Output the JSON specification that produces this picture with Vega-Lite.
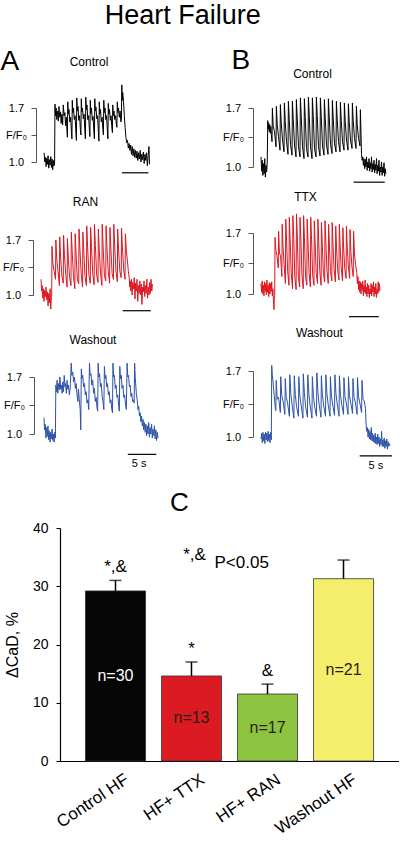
{
"$schema": "https://vega.github.io/schema/vega-lite/v6.json",
"padding": {"left": 0, "top": 2, "right": 0, "bottom": 0},
"background": "white",
"config": {
  "font": "Liberation Sans",
  "view": {"stroke": null},
  "axis": {"grid": false, "labelColor": "#000000", "titleColor": "#000000", "labelFont": "Liberation Sans", "titleFont": "Liberation Sans"},
  "title": {"fontWeight": "normal", "color": "#000000", "font": "Liberation Sans"},
  "text": {"font": "Liberation Sans", "color": "#000000"}
},
"title": {"text": "Heart Failure", "fontSize": 27, "anchor": "middle", "dx": -17, "offset": 17},
"datasets": {
"AC": [{"t":0,"v":1.12},{"t":0.12,"v":1.0},{"t":0.25,"v":1.06},{"t":0.38,"v":0.94},{"t":0.5,"v":1.05},{"t":0.62,"v":0.97},{"t":0.75,"v":1.08},{"t":0.88,"v":0.92},{"t":1.0,"v":1.03},{"t":1.12,"v":0.96},{"t":1.25,"v":1.07},{"t":1.38,"v":0.93},{"t":1.5,"v":1.04},{"t":1.62,"v":0.9},{"t":1.75,"v":1.02},{"t":1.88,"v":0.95},{"t":1.98,"v":1.0},
{"t":2.05,"v":1.75},{"t":2.15,"v":1.6},{"t":2.28,"v":1.7},{"t":2.4,"v":1.55},{"t":2.55,"v":1.66},{"t":2.68,"v":1.53},{"t":2.8,"v":1.72},{"t":2.95,"v":1.58},{"t":3.1,"v":1.65},{"t":3.22,"v":1.5},{"t":3.35,"v":1.62},{"t":3.5,"v":1.48},{"t":3.62,"v":1.74},{"t":3.78,"v":1.6},{"t":3.92,"v":1.64},{"t":4.05,"v":1.47},{"t":4.2,"v":1.58},{"t":4.32,"v":1.4},
{"t":4.4,"v":1.32},{"t":4.47,"v":1.78},{"t":4.58,"v":1.62},{"t":4.7,"v":1.68},{"t":4.85,"v":1.52},{"t":5.0,"v":1.58},{"t":5.15,"v":1.4},
{"t":5.25,"v":1.3},{"t":5.32,"v":1.8},{"t":5.43,"v":1.64},{"t":5.55,"v":1.7},{"t":5.7,"v":1.55},{"t":5.85,"v":1.6},{"t":6.0,"v":1.38},
{"t":6.1,"v":1.28},{"t":6.17,"v":1.83},{"t":6.28,"v":1.66},{"t":6.4,"v":1.72},{"t":6.55,"v":1.54},{"t":6.7,"v":1.6},{"t":6.85,"v":1.42},
{"t":6.95,"v":1.35},{"t":7.02,"v":1.82},{"t":7.13,"v":1.65},{"t":7.25,"v":1.7},{"t":7.4,"v":1.56},{"t":7.55,"v":1.62},{"t":7.7,"v":1.4},
{"t":7.8,"v":1.3},{"t":7.87,"v":1.84},{"t":7.98,"v":1.68},{"t":8.1,"v":1.74},{"t":8.25,"v":1.55},{"t":8.4,"v":1.6},{"t":8.55,"v":1.42},
{"t":8.65,"v":1.33},{"t":8.72,"v":1.8},{"t":8.83,"v":1.63},{"t":8.95,"v":1.7},{"t":9.1,"v":1.54},{"t":9.25,"v":1.59},{"t":9.4,"v":1.39},
{"t":9.5,"v":1.3},{"t":9.57,"v":1.82},{"t":9.68,"v":1.66},{"t":9.8,"v":1.71},{"t":9.95,"v":1.56},{"t":10.1,"v":1.6},{"t":10.25,"v":1.4},
{"t":10.35,"v":1.27},{"t":10.42,"v":1.78},{"t":10.53,"v":1.62},{"t":10.65,"v":1.68},{"t":10.8,"v":1.52},{"t":10.95,"v":1.58},{"t":11.1,"v":1.42},
{"t":11.2,"v":1.35},{"t":11.27,"v":1.8},{"t":11.38,"v":1.64},{"t":11.5,"v":1.7},{"t":11.65,"v":1.55},{"t":11.8,"v":1.6},{"t":11.95,"v":1.4},
{"t":12.05,"v":1.3},{"t":12.12,"v":1.76},{"t":12.23,"v":1.62},{"t":12.35,"v":1.68},{"t":12.5,"v":1.54},{"t":12.65,"v":1.6},{"t":12.8,"v":1.44},
{"t":12.9,"v":1.38},{"t":12.97,"v":1.74},{"t":13.08,"v":1.6},{"t":13.2,"v":1.66},{"t":13.35,"v":1.55},{"t":13.5,"v":1.6},{"t":13.65,"v":1.48},
{"t":13.75,"v":1.45},{"t":13.82,"v":1.78},{"t":13.93,"v":1.64},{"t":14.05,"v":1.7},{"t":14.2,"v":1.58},{"t":14.35,"v":1.66},{"t":14.5,"v":1.52},
{"t":14.6,"v":1.55},{"t":14.67,"v":2.0},{"t":14.76,"v":1.8},{"t":14.85,"v":1.9},
{"t":15.0,"v":1.78},{"t":15.15,"v":1.6},{"t":15.3,"v":1.45},{"t":15.45,"v":1.32},{"t":15.6,"v":1.25},{"t":15.75,"v":1.28},{"t":15.9,"v":1.18},{"t":16.05,"v":1.24},{"t":16.2,"v":1.15},{"t":16.35,"v":1.22},{"t":16.5,"v":1.1},{"t":16.65,"v":1.2},{"t":16.8,"v":1.08},{"t":16.95,"v":1.17},{"t":17.1,"v":1.06},{"t":17.25,"v":1.15},{"t":17.4,"v":1.05},{"t":17.55,"v":1.14},{"t":17.7,"v":1.02},{"t":17.85,"v":1.12},{"t":18.0,"v":1.04},{"t":18.15,"v":1.15},{"t":18.3,"v":1.0},{"t":18.45,"v":1.1},{"t":18.6,"v":1.03},{"t":18.75,"v":1.13},{"t":18.9,"v":0.98},{"t":19.05,"v":1.1},{"t":19.2,"v":1.02},{"t":19.35,"v":1.12},{"t":19.5,"v":0.95},{"t":19.65,"v":1.08},{"t":19.8,"v":1.2},{"t":19.9,"v":0.97}],
"AR": [{"t":0,"v":1.2},{"t":0.1,"v":1.05},{"t":0.2,"v":1.12},{"t":0.3,"v":0.96},{"t":0.42,"v":1.08},{"t":0.54,"v":0.92},{"t":0.66,"v":1.06},{"t":0.78,"v":0.98},{"t":0.9,"v":1.1},{"t":1.02,"v":0.94},{"t":1.14,"v":1.04},{"t":1.26,"v":0.86},{"t":1.38,"v":1.02},{"t":1.5,"v":0.9},{"t":1.62,"v":1.08},{"t":1.74,"v":0.82},{"t":1.85,"v":0.98},
{"t":1.9,"v":0.98},{"t":1.96,"v":1.62},{"t":2.12,"v":1.4},{"t":2.35,"v":1.3},
{"t":2.59,"v":1.2},{"t":2.65,"v":1.7},{"t":2.81,"v":1.46},{"t":3.04,"v":1.3},
{"t":3.28,"v":1.12},{"t":3.34,"v":1.74},{"t":3.5,"v":1.48},{"t":3.73,"v":1.24},
{"t":3.97,"v":1.15},{"t":4.03,"v":1.76},{"t":4.19,"v":1.5},{"t":4.42,"v":1.26},
{"t":4.66,"v":1.1},{"t":4.72,"v":1.72},{"t":4.88,"v":1.46},{"t":5.11,"v":1.22},
{"t":5.35,"v":1.12},{"t":5.41,"v":1.8},{"t":5.57,"v":1.55},{"t":5.8,"v":1.24},
{"t":6.04,"v":1.08},{"t":6.1,"v":1.78},{"t":6.26,"v":1.52},{"t":6.49,"v":1.2},
{"t":6.73,"v":1.14},{"t":6.79,"v":1.84},{"t":6.95,"v":1.58},{"t":7.18,"v":1.26},
{"t":7.42,"v":1.1},{"t":7.48,"v":1.8},{"t":7.64,"v":1.55},{"t":7.87,"v":1.22},
{"t":8.11,"v":1.12},{"t":8.17,"v":1.88},{"t":8.33,"v":1.6},{"t":8.56,"v":1.25},
{"t":8.8,"v":1.15},{"t":8.86,"v":1.86},{"t":9.02,"v":1.6},{"t":9.25,"v":1.26},
{"t":9.49,"v":1.13},{"t":9.55,"v":1.9},{"t":9.71,"v":1.63},{"t":9.94,"v":1.25},
{"t":10.18,"v":1.16},{"t":10.24,"v":1.84},{"t":10.4,"v":1.58},{"t":10.63,"v":1.28},
{"t":10.87,"v":1.12},{"t":10.93,"v":1.9},{"t":11.09,"v":1.62},{"t":11.32,"v":1.25},
{"t":11.56,"v":1.18},{"t":11.62,"v":1.88},{"t":11.78,"v":1.6},{"t":12.01,"v":1.3},
{"t":12.25,"v":1.15},{"t":12.31,"v":1.86},{"t":12.47,"v":1.6},{"t":12.7,"v":1.27},
{"t":12.94,"v":1.2},{"t":13.0,"v":1.9},{"t":13.16,"v":1.62},{"t":13.39,"v":1.3},
{"t":13.63,"v":1.17},{"t":13.69,"v":1.84},{"t":13.85,"v":1.58},{"t":14.08,"v":1.3},
{"t":14.32,"v":1.22},{"t":14.38,"v":1.85},{"t":14.54,"v":1.6},{"t":14.77,"v":1.32},
{"t":15.01,"v":1.2},{"t":15.07,"v":1.78},{"t":15.25,"v":1.55},{"t":15.45,"v":1.42},{"t":15.6,"v":1.3},{"t":15.75,"v":1.22},{"t":15.85,"v":1.1},
{"t":15.95,"v":1.18},{"t":16.05,"v":1.05},{"t":16.15,"v":1.2},{"t":16.27,"v":1.0},{"t":16.4,"v":1.16},{"t":16.52,"v":1.08},{"t":16.65,"v":1.22},{"t":16.78,"v":0.95},{"t":16.9,"v":1.15},{"t":17.02,"v":1.05},{"t":17.15,"v":1.2},{"t":17.28,"v":0.92},{"t":17.4,"v":1.12},{"t":17.52,"v":1.02},{"t":17.65,"v":1.18},{"t":17.78,"v":1.0},{"t":17.9,"v":1.14},{"t":18.02,"v":0.88},{"t":18.15,"v":1.1},{"t":18.28,"v":1.04},{"t":18.4,"v":1.18},{"t":18.52,"v":0.98},{"t":18.65,"v":1.12},{"t":18.78,"v":1.02},{"t":18.9,"v":1.2},{"t":19.02,"v":0.96},{"t":19.15,"v":1.1},{"t":19.28,"v":1.0},{"t":19.4,"v":1.16},{"t":19.52,"v":1.02},{"t":19.65,"v":1.2},{"t":19.78,"v":1.05},{"t":19.9,"v":1.14}],
"AW": [{"t":0,"v":1.2},{"t":0.1,"v":1.05},{"t":0.22,"v":1.12},{"t":0.34,"v":0.95},{"t":0.46,"v":1.08},{"t":0.58,"v":0.97},{"t":0.7,"v":1.1},{"t":0.82,"v":0.93},{"t":0.94,"v":1.04},{"t":1.06,"v":0.9},{"t":1.18,"v":1.02},{"t":1.3,"v":0.94},{"t":1.42,"v":1.06},{"t":1.54,"v":0.92},{"t":1.66,"v":1.0},{"t":1.78,"v":0.9},{"t":1.9,"v":1.02},{"t":2.0,"v":0.95},
{"t":2.08,"v":1.6},{"t":2.18,"v":1.52},{"t":2.3,"v":1.66},{"t":2.42,"v":1.5},{"t":2.55,"v":1.62},{"t":2.68,"v":1.54},{"t":2.8,"v":1.7},{"t":2.93,"v":1.55},{"t":3.05,"v":1.6},{"t":3.18,"v":1.5},{"t":3.3,"v":1.64},{"t":3.42,"v":1.52},{"t":3.55,"v":1.72},{"t":3.68,"v":1.58},{"t":3.8,"v":1.62},{"t":3.92,"v":1.5},{"t":4.05,"v":1.66},{"t":4.18,"v":1.55},{"t":4.3,"v":1.6},{"t":4.45,"v":1.48},{"t":4.62,"v":1.58},
{"t":4.78,"v":1.87},{"t":4.9,"v":1.72},{"t":5.05,"v":1.76},{"t":5.2,"v":1.64},{"t":5.35,"v":1.7},{"t":5.5,"v":1.56},{"t":5.65,"v":1.62},{"t":5.8,"v":1.48},{"t":5.95,"v":1.4},{"t":6.05,"v":1.55},{"t":6.2,"v":1.42},{"t":6.35,"v":1.3},{"t":6.45,"v":1.05},
{"t":6.55,"v":1.8},{"t":6.67,"v":1.68},{"t":6.8,"v":1.72},{"t":6.95,"v":1.58},{"t":7.1,"v":1.62},{"t":7.25,"v":1.48},{"t":7.4,"v":1.52},{"t":7.55,"v":1.38},{"t":7.7,"v":1.42},{"t":7.85,"v":1.3},
{"t":7.98,"v":1.87},{"t":8.1,"v":1.72},{"t":8.25,"v":1.74},{"t":8.4,"v":1.6},{"t":8.55,"v":1.66},{"t":8.7,"v":1.5},{"t":8.85,"v":1.56},{"t":9.0,"v":1.4},{"t":9.15,"v":1.45},{"t":9.3,"v":1.32},{"t":9.42,"v":1.28},
{"t":9.5,"v":1.87},{"t":9.62,"v":1.7},{"t":9.76,"v":1.74},{"t":9.9,"v":1.58},{"t":10.05,"v":1.62},{"t":10.2,"v":1.46},{"t":10.35,"v":1.4},{"t":10.5,"v":1.3},
{"t":10.6,"v":1.83},{"t":10.72,"v":1.68},{"t":10.86,"v":1.72},{"t":11.0,"v":1.58},{"t":11.15,"v":1.62},{"t":11.3,"v":1.48},{"t":11.45,"v":1.52},{"t":11.6,"v":1.38},{"t":11.75,"v":1.42},{"t":11.9,"v":1.3},{"t":12.02,"v":1.26},
{"t":12.1,"v":1.87},{"t":12.22,"v":1.7},{"t":12.36,"v":1.72},{"t":12.5,"v":1.56},{"t":12.65,"v":1.6},{"t":12.8,"v":1.45},{"t":12.95,"v":1.48},{"t":13.1,"v":1.34},{"t":13.22,"v":1.28},
{"t":13.3,"v":1.83},{"t":13.42,"v":1.68},{"t":13.56,"v":1.72},{"t":13.7,"v":1.56},{"t":13.85,"v":1.6},{"t":14.0,"v":1.45},{"t":14.15,"v":1.48},{"t":14.3,"v":1.36},{"t":14.45,"v":1.3},
{"t":14.58,"v":1.87},{"t":14.7,"v":1.7},{"t":14.84,"v":1.72},{"t":14.98,"v":1.58},{"t":15.12,"v":1.6},{"t":15.26,"v":1.46},{"t":15.4,"v":1.5},{"t":15.55,"v":1.4},{"t":15.7,"v":1.42},{"t":15.82,"v":1.38},
{"t":15.9,"v":1.87},{"t":16.0,"v":1.7},{"t":16.1,"v":1.6},{"t":16.22,"v":1.48},{"t":16.35,"v":1.42},{"t":16.5,"v":1.3},{"t":16.62,"v":1.34},{"t":16.75,"v":1.22},{"t":16.88,"v":1.26},{"t":17.0,"v":1.15},{"t":17.12,"v":1.22},{"t":17.25,"v":1.1},{"t":17.38,"v":1.18},{"t":17.5,"v":1.05},{"t":17.62,"v":1.14},{"t":17.75,"v":1.02},{"t":17.88,"v":1.12},{"t":18.0,"v":0.98},{"t":18.12,"v":1.1},{"t":18.25,"v":1.0},{"t":18.38,"v":1.14},{"t":18.5,"v":0.96},{"t":18.62,"v":1.08},{"t":18.75,"v":1.0},{"t":18.88,"v":1.12},{"t":19.0,"v":0.95},{"t":19.12,"v":1.06},{"t":19.25,"v":0.98},{"t":19.38,"v":1.1},{"t":19.5,"v":0.94},{"t":19.62,"v":1.05},{"t":19.75,"v":0.92},{"t":19.88,"v":1.02},{"t":20.0,"v":0.95}],
"BC": [{"t":0,"v":1.12},{"t":0.1,"v":0.95},{"t":0.2,"v":1.08},{"t":0.3,"v":0.9},{"t":0.4,"v":1.04},{"t":0.5,"v":0.92},{"t":0.6,"v":1.1},{"t":0.7,"v":0.88},{"t":0.8,"v":1.02},{"t":0.9,"v":0.94},{"t":1.0,"v":1.06},
{"t":1.08,"v":1.55},{"t":1.16,"v":1.45},{"t":1.24,"v":1.52},{"t":1.32,"v":1.42},{"t":1.4,"v":1.5},{"t":1.48,"v":1.4},{"t":1.56,"v":1.48},{"t":1.66,"v":1.38},
{"t":1.76,"v":1.3},{"t":1.82,"v":1.7},{"t":1.96,"v":1.48},{"t":2.16,"v":1.42},
{"t":2.4,"v":1.24},{"t":2.46,"v":1.72},{"t":2.6,"v":1.5},{"t":2.8,"v":1.36},
{"t":3.04,"v":1.2},{"t":3.1,"v":1.74},{"t":3.24,"v":1.52},{"t":3.44,"v":1.32},
{"t":3.68,"v":1.18},{"t":3.74,"v":1.76},{"t":3.88,"v":1.54},{"t":4.08,"v":1.3},
{"t":4.32,"v":1.15},{"t":4.38,"v":1.78},{"t":4.52,"v":1.56},{"t":4.72,"v":1.27},
{"t":4.96,"v":1.14},{"t":5.02,"v":1.78},{"t":5.16,"v":1.56},{"t":5.36,"v":1.26},
{"t":5.6,"v":1.12},{"t":5.66,"v":1.8},{"t":5.8,"v":1.58},{"t":6.0,"v":1.24},
{"t":6.24,"v":1.12},{"t":6.3,"v":1.82},{"t":6.44,"v":1.6},{"t":6.64,"v":1.24},
{"t":6.88,"v":1.1},{"t":6.94,"v":1.81},{"t":7.08,"v":1.59},{"t":7.28,"v":1.22},
{"t":7.52,"v":1.12},{"t":7.58,"v":1.83},{"t":7.72,"v":1.61},{"t":7.92,"v":1.24},
{"t":8.16,"v":1.1},{"t":8.22,"v":1.82},{"t":8.36,"v":1.6},{"t":8.56,"v":1.22},
{"t":8.8,"v":1.12},{"t":8.86,"v":1.83},{"t":9.0,"v":1.61},{"t":9.2,"v":1.24},
{"t":9.44,"v":1.13},{"t":9.5,"v":1.82},{"t":9.64,"v":1.6},{"t":9.84,"v":1.25},
{"t":10.08,"v":1.14},{"t":10.14,"v":1.8},{"t":10.28,"v":1.58},{"t":10.48,"v":1.26},
{"t":10.72,"v":1.15},{"t":10.78,"v":1.81},{"t":10.92,"v":1.59},{"t":11.12,"v":1.27},
{"t":11.36,"v":1.16},{"t":11.42,"v":1.79},{"t":11.56,"v":1.57},{"t":11.76,"v":1.28},
{"t":12.0,"v":1.18},{"t":12.06,"v":1.78},{"t":12.2,"v":1.56},{"t":12.4,"v":1.3},
{"t":12.64,"v":1.18},{"t":12.7,"v":1.77},{"t":12.84,"v":1.55},{"t":13.04,"v":1.3},
{"t":13.28,"v":1.2},{"t":13.34,"v":1.76},{"t":13.48,"v":1.54},{"t":13.68,"v":1.32},
{"t":13.92,"v":1.2},{"t":13.98,"v":1.75},{"t":14.12,"v":1.53},{"t":14.32,"v":1.32},
{"t":14.56,"v":1.22},{"t":14.62,"v":1.76},{"t":14.76,"v":1.54},{"t":14.96,"v":1.34},
{"t":15.2,"v":1.22},{"t":15.26,"v":1.72},{"t":15.4,"v":1.5},{"t":15.6,"v":1.34},
{"t":15.84,"v":1.25},{"t":15.9,"v":1.68},{"t":16.0,"v":1.4},{"t":16.08,"v":1.15},{"t":16.18,"v":1.08},{"t":16.28,"v":1.12},{"t":16.38,"v":1.02},{"t":16.48,"v":1.1},{"t":16.58,"v":0.98},{"t":16.68,"v":1.09},{"t":16.78,"v":1.0},{"t":16.88,"v":1.12},{"t":16.98,"v":0.96},{"t":17.08,"v":1.06},{"t":17.18,"v":0.99},{"t":17.28,"v":1.1},{"t":17.38,"v":0.95},{"t":17.48,"v":1.05},{"t":17.58,"v":0.98},{"t":17.68,"v":1.12},{"t":17.78,"v":0.94},{"t":17.88,"v":1.04},{"t":17.98,"v":0.97},{"t":18.08,"v":1.08},{"t":18.18,"v":0.93},{"t":18.28,"v":1.03},{"t":18.38,"v":0.96},{"t":18.48,"v":1.1},{"t":18.58,"v":0.92},{"t":18.68,"v":1.02},{"t":18.78,"v":0.95},{"t":18.88,"v":1.08},{"t":18.98,"v":0.9},{"t":19.08,"v":1.0},{"t":19.18,"v":0.94},{"t":19.28,"v":1.06},{"t":19.38,"v":0.9},{"t":19.48,"v":1.0},{"t":19.58,"v":0.93},{"t":19.68,"v":1.05},{"t":19.78,"v":0.89},{"t":19.88,"v":0.98},{"t":19.98,"v":0.92}],
"BT": [{"t":0,"v":1.12},{"t":0.1,"v":1.02},{"t":0.2,"v":1.15},{"t":0.3,"v":1.0},{"t":0.4,"v":1.1},{"t":0.5,"v":0.98},{"t":0.6,"v":1.14},{"t":0.7,"v":1.03},{"t":0.8,"v":1.12},{"t":0.9,"v":0.99},{"t":1.0,"v":1.16},{"t":1.1,"v":1.02},{"t":1.2,"v":1.1},{"t":1.3,"v":0.97},{"t":1.4,"v":1.13},{"t":1.5,"v":1.0},{"t":1.6,"v":1.12},{"t":1.7,"v":1.03},{"t":1.8,"v":1.14},{"t":1.9,"v":0.98},{"t":2.0,"v":1.06},{"t":2.1,"v":0.92},{"t":2.18,"v":0.82},{"t":2.24,"v":0.95},
{"t":2.3,"v":0.98},{"t":2.36,"v":1.65},{"t":2.5,"v":1.5},{"t":2.68,"v":1.44},
{"t":2.9,"v":1.3},{"t":2.96,"v":1.72},{"t":3.1,"v":1.47},{"t":3.28,"v":1.44},
{"t":3.5,"v":1.2},{"t":3.56,"v":1.8},{"t":3.7,"v":1.55},{"t":3.88,"v":1.34},
{"t":4.1,"v":1.12},{"t":4.16,"v":1.86},{"t":4.3,"v":1.61},{"t":4.48,"v":1.26},
{"t":4.7,"v":1.1},{"t":4.76,"v":1.88},{"t":4.9,"v":1.63},{"t":5.08,"v":1.24},
{"t":5.3,"v":1.06},{"t":5.36,"v":1.9},{"t":5.5,"v":1.65},{"t":5.68,"v":1.2},
{"t":5.9,"v":1.05},{"t":5.96,"v":1.92},{"t":6.1,"v":1.67},{"t":6.28,"v":1.19},
{"t":6.5,"v":1.08},{"t":6.56,"v":1.88},{"t":6.7,"v":1.63},{"t":6.88,"v":1.22},
{"t":7.1,"v":1.06},{"t":7.16,"v":1.9},{"t":7.3,"v":1.65},{"t":7.48,"v":1.2},
{"t":7.7,"v":1.1},{"t":7.76,"v":1.86},{"t":7.9,"v":1.61},{"t":8.08,"v":1.24},
{"t":8.3,"v":1.08},{"t":8.36,"v":1.88},{"t":8.5,"v":1.63},{"t":8.68,"v":1.22},
{"t":8.9,"v":1.1},{"t":8.96,"v":1.84},{"t":9.1,"v":1.59},{"t":9.28,"v":1.24},
{"t":9.5,"v":1.12},{"t":9.56,"v":1.86},{"t":9.7,"v":1.61},{"t":9.88,"v":1.26},
{"t":10.1,"v":1.1},{"t":10.16,"v":1.82},{"t":10.3,"v":1.57},{"t":10.48,"v":1.24},
{"t":10.7,"v":1.14},{"t":10.76,"v":1.84},{"t":10.9,"v":1.59},{"t":11.08,"v":1.28},
{"t":11.3,"v":1.12},{"t":11.36,"v":1.8},{"t":11.5,"v":1.55},{"t":11.68,"v":1.26},
{"t":11.9,"v":1.15},{"t":11.96,"v":1.82},{"t":12.1,"v":1.57},{"t":12.28,"v":1.29},
{"t":12.5,"v":1.14},{"t":12.56,"v":1.78},{"t":12.7,"v":1.53},{"t":12.88,"v":1.28},
{"t":13.1,"v":1.16},{"t":13.16,"v":1.8},{"t":13.3,"v":1.55},{"t":13.48,"v":1.3},
{"t":13.7,"v":1.15},{"t":13.76,"v":1.76},{"t":13.9,"v":1.51},{"t":14.08,"v":1.29},
{"t":14.3,"v":1.18},{"t":14.36,"v":1.78},{"t":14.5,"v":1.53},{"t":14.68,"v":1.32},
{"t":14.9,"v":1.18},{"t":14.96,"v":1.74},{"t":15.1,"v":1.49},{"t":15.28,"v":1.32},
{"t":15.5,"v":1.2},{"t":15.56,"v":1.72},{"t":15.7,"v":1.47},{"t":15.88,"v":1.34},
{"t":16.1,"v":1.25},{"t":16.2,"v":1.12},{"t":16.3,"v":1.2},{"t":16.4,"v":1.05},{"t":16.5,"v":1.15},{"t":16.6,"v":1.02},{"t":16.7,"v":1.14},{"t":16.8,"v":1.0},{"t":16.9,"v":1.12},{"t":17.0,"v":1.04},{"t":17.1,"v":1.15},{"t":17.2,"v":0.98},{"t":17.3,"v":1.1},{"t":17.4,"v":1.02},{"t":17.5,"v":1.16},{"t":17.6,"v":1.0},{"t":17.7,"v":1.08},{"t":17.8,"v":0.97},{"t":17.9,"v":1.12},{"t":18.0,"v":1.0},{"t":18.1,"v":1.1},{"t":18.2,"v":0.96},{"t":18.3,"v":1.06},{"t":18.4,"v":1.0},{"t":18.5,"v":1.12},{"t":18.6,"v":0.98},{"t":18.7,"v":1.1},{"t":18.8,"v":1.02},{"t":18.9,"v":1.14},{"t":19.0,"v":0.97},{"t":19.1,"v":1.08},{"t":19.2,"v":1.0},{"t":19.3,"v":1.12},{"t":19.4,"v":0.96},{"t":19.5,"v":1.06},{"t":19.6,"v":1.0},{"t":19.7,"v":1.14},{"t":19.8,"v":1.02},{"t":19.9,"v":1.12},{"t":20.0,"v":1.04}],
"BW": [{"t":0,"v":0.98},{"t":0.1,"v":1.04},{"t":0.2,"v":0.94},{"t":0.3,"v":1.05},{"t":0.4,"v":0.96},{"t":0.5,"v":1.03},{"t":0.6,"v":0.93},{"t":0.7,"v":1.05},{"t":0.8,"v":0.97},{"t":0.9,"v":1.04},{"t":1.0,"v":0.95},{"t":1.1,"v":1.06},{"t":1.2,"v":0.96},{"t":1.3,"v":1.03},{"t":1.4,"v":0.94},{"t":1.5,"v":1.05},{"t":1.6,"v":0.97},
{"t":1.66,"v":1.76},{"t":1.75,"v":1.66},{"t":1.85,"v":1.6},{"t":1.95,"v":1.52},{"t":2.05,"v":1.44},{"t":2.15,"v":1.36},{"t":2.22,"v":1.3},
{"t":2.3,"v":1.28},{"t":2.36,"v":1.6},{"t":2.52,"v":1.4},{"t":2.72,"v":1.42},
{"t":3.0,"v":1.26},{"t":3.06,"v":1.64},{"t":3.22,"v":1.44},{"t":3.42,"v":1.38},
{"t":3.7,"v":1.24},{"t":3.76,"v":1.62},{"t":3.92,"v":1.42},{"t":4.12,"v":1.36},
{"t":4.4,"v":1.22},{"t":4.46,"v":1.66},{"t":4.62,"v":1.46},{"t":4.82,"v":1.34},
{"t":5.1,"v":1.2},{"t":5.16,"v":1.65},{"t":5.32,"v":1.45},{"t":5.52,"v":1.32},
{"t":5.8,"v":1.22},{"t":5.86,"v":1.64},{"t":6.02,"v":1.44},{"t":6.22,"v":1.34},
{"t":6.5,"v":1.2},{"t":6.56,"v":1.67},{"t":6.72,"v":1.47},{"t":6.92,"v":1.32},
{"t":7.2,"v":1.21},{"t":7.26,"v":1.66},{"t":7.42,"v":1.46},{"t":7.62,"v":1.33},
{"t":7.9,"v":1.2},{"t":7.96,"v":1.64},{"t":8.12,"v":1.44},{"t":8.32,"v":1.32},
{"t":8.6,"v":1.22},{"t":8.66,"v":1.68},{"t":8.82,"v":1.48},{"t":9.02,"v":1.34},
{"t":9.3,"v":1.21},{"t":9.36,"v":1.65},{"t":9.52,"v":1.45},{"t":9.72,"v":1.33},
{"t":10.0,"v":1.22},{"t":10.06,"v":1.66},{"t":10.22,"v":1.46},{"t":10.42,"v":1.34},
{"t":10.7,"v":1.22},{"t":10.76,"v":1.64},{"t":10.92,"v":1.44},{"t":11.12,"v":1.34},
{"t":11.4,"v":1.23},{"t":11.46,"v":1.66},{"t":11.62,"v":1.46},{"t":11.82,"v":1.35},
{"t":12.1,"v":1.22},{"t":12.16,"v":1.65},{"t":12.32,"v":1.45},{"t":12.52,"v":1.34},
{"t":12.8,"v":1.24},{"t":12.86,"v":1.63},{"t":13.02,"v":1.43},{"t":13.22,"v":1.36},
{"t":13.5,"v":1.24},{"t":13.56,"v":1.64},{"t":13.72,"v":1.44},{"t":13.92,"v":1.36},
{"t":14.2,"v":1.25},{"t":14.26,"v":1.62},{"t":14.42,"v":1.42},{"t":14.62,"v":1.37},
{"t":14.9,"v":1.24},{"t":14.96,"v":1.63},{"t":15.12,"v":1.43},{"t":15.32,"v":1.36},
{"t":15.6,"v":1.26},{"t":15.66,"v":1.6},{"t":15.82,"v":1.4},{"t":16.02,"v":1.38},
{"t":16.2,"v":1.3},{"t":16.3,"v":1.12},{"t":16.4,"v":1.06},{"t":16.5,"v":1.1},{"t":16.6,"v":1.0},{"t":16.7,"v":1.08},{"t":16.8,"v":0.98},{"t":16.9,"v":1.06},{"t":17.0,"v":0.97},{"t":17.1,"v":1.1},{"t":17.2,"v":0.96},{"t":17.3,"v":1.04},{"t":17.4,"v":0.95},{"t":17.5,"v":1.02},{"t":17.6,"v":0.94},{"t":17.7,"v":1.04},{"t":17.8,"v":0.93},{"t":17.9,"v":1.0},{"t":18.0,"v":0.92},{"t":18.1,"v":1.03},{"t":18.2,"v":0.93},{"t":18.3,"v":1.0},{"t":18.4,"v":0.9},{"t":18.5,"v":0.98},{"t":18.6,"v":0.92},{"t":18.7,"v":1.06},{"t":18.8,"v":0.9},{"t":18.9,"v":0.97},{"t":19.0,"v":0.9},{"t":19.1,"v":0.99},{"t":19.2,"v":0.88},{"t":19.3,"v":0.96},{"t":19.4,"v":0.9},{"t":19.5,"v":0.98},{"t":19.6,"v":0.87},{"t":19.7,"v":0.95},{"t":19.8,"v":0.9},{"t":19.9,"v":0.93},{"t":20.0,"v":0.91}],
"bars": [
 {"cond":"Control HF","mean":29.2,"hi":31.0,"n":"n=30","sig":"*,&"},
 {"cond":"HF+ TTX","mean":14.6,"hi":17.0,"n":"n=13","sig":"*"},
 {"cond":"HF+ RAN","mean":11.5,"hi":13.2,"n":"n=17","sig":"&"},
 {"cond":"Washout HF","mean":31.3,"hi":34.5,"n":"n=21","sig":""}
]
},
"columns": 1,
"spacing": 19,
"concat": [
 {"columns": 2, "spacing": 62, "concat": [
  {"title": {"text": "A", "fontSize": 28, "anchor": "start", "offset": -20, "dx": -2}, "columns": 1, "spacing": 22, "concat": [
   {"width": 90, "height": 54, "title": {"text": "Control", "fontSize": 12, "offset": 14, "dx": -16},
    "encoding": {
     "x": {"field": "t", "type": "quantitative", "scale": {"domain": [3, 20], "nice": false, "zero": false}, "axis": null},
     "y": {"field": "v", "type": "quantitative", "scale": {"domain": [1.0, 1.7], "nice": false, "zero": false},
      "axis": {"values": [1.0, 1.35, 1.7], "labelExpr": "datum.value < 1.2 ? '1.0' : (datum.value > 1.5 ? '1.7' : 'F/F₀')", "labelOverlap": false, "offset": 24, "tickSize": 5, "domainColor": "#555555", "tickColor": "#555555", "labelFontSize": 11, "labelAlign": "center", "labelPadding": 15, "title": null}}},
    "layer": [
     {"data": {"name": "AC"}, "mark": {"type": "line", "color": "#000000", "strokeWidth": 1, "clip": false}, "encoding": {}},
     {"data": {"values": [{"t": 14.7, "t2": 19.7, "v": 0.86}]}, "mark": {"type": "rule", "color": "#000000", "strokeWidth": 1.2}, "encoding": {"x2": {"field": "t2"}}}
    ]},
   {"width": 93, "height": 55, "title": {"text": "RAN", "fontSize": 12, "offset": 13, "dx": -21},
    "encoding": {
     "x": {"field": "t", "type": "quantitative", "scale": {"domain": [3.39, 20], "nice": false, "zero": false}, "axis": null},
     "y": {"field": "v", "type": "quantitative", "scale": {"domain": [1.0, 1.7], "nice": false, "zero": false},
      "axis": {"values": [1.0, 1.35, 1.7], "labelExpr": "datum.value < 1.2 ? '1.0' : (datum.value > 1.5 ? '1.7' : 'F/F₀')", "labelOverlap": false, "offset": 27, "tickSize": 5, "domainColor": "#555555", "tickColor": "#555555", "labelFontSize": 11, "labelAlign": "center", "labelPadding": 15, "title": null}}},
    "layer": [
     {"data": {"name": "AR"}, "mark": {"type": "line", "color": "#dd1520", "strokeWidth": 1, "clip": false}, "encoding": {}},
     {"data": {"values": [{"t": 14.6, "t2": 19.6, "v": 0.8}]}, "mark": {"type": "rule", "color": "#000000", "strokeWidth": 1.2}, "encoding": {"x2": {"field": "t2"}}}
    ]},
   {"width": 98, "height": 57, "title": {"text": "Washout", "fontSize": 12, "offset": 14, "dx": -16},
    "encoding": {
     "x": {"field": "t", "type": "quantitative", "scale": {"domain": [2.81, 20], "nice": false, "zero": false}, "axis": null},
     "y": {"field": "v", "type": "quantitative", "scale": {"domain": [1.0, 1.7], "nice": false, "zero": false},
      "axis": {"values": [1.0, 1.35, 1.7], "labelExpr": "datum.value < 1.2 ? '1.0' : (datum.value > 1.5 ? '1.7' : 'F/F₀')", "labelOverlap": false, "offset": 26, "tickSize": 5, "domainColor": "#555555", "tickColor": "#555555", "labelFontSize": 11, "labelAlign": "center", "labelPadding": 15, "title": null}}},
    "layer": [
     {"data": {"name": "AW"}, "mark": {"type": "line", "color": "#2d52a8", "strokeWidth": 1, "clip": false}, "encoding": {}},
     {"data": {"values": [{"t": 14.7, "t2": 19.7, "v": 0.75}]}, "mark": {"type": "rule", "color": "#000000", "strokeWidth": 1.2}, "encoding": {"x2": {"field": "t2"}}},
     {"data": {"values": [{"tm": 16.7, "v": 0.75, "label": "5 s"}]}, "mark": {"type": "text", "baseline": "top", "dy": 4, "fontSize": 11},
      "encoding": {"x": {"field": "tm", "type": "quantitative"}, "text": {"field": "label"}}}
    ]}
  ]},
  {"title": {"text": "B", "fontSize": 28, "anchor": "start", "offset": -7, "dx": 9}, "columns": 1, "spacing": 7, "concat": [
   {"width": 125, "height": 59, "title": {"text": "Control", "fontSize": 12, "offset": 14, "dx": -11},
    "encoding": {
     "x": {"field": "t", "type": "quantitative", "scale": {"domain": [0, 20], "nice": false}, "axis": null},
     "y": {"field": "v", "type": "quantitative", "scale": {"domain": [1.0, 1.7], "nice": false, "zero": false},
      "axis": {"values": [1.0, 1.35, 1.7], "labelExpr": "datum.value < 1.2 ? '1.0' : (datum.value > 1.5 ? '1.7' : 'F/F₀')", "labelOverlap": false, "offset": 8, "tickSize": 5, "domainColor": "#555555", "tickColor": "#555555", "labelFontSize": 11, "labelAlign": "center", "labelPadding": 15, "title": null}}},
    "layer": [
     {"data": {"name": "BC"}, "mark": {"type": "line", "color": "#000000", "strokeWidth": 1, "clip": false}, "encoding": {}},
     {"data": {"values": [{"t": 14.8, "t2": 19.8, "v": 0.82}]}, "mark": {"type": "rule", "color": "#000000", "strokeWidth": 1.2}, "encoding": {"x2": {"field": "t2"}}}
    ]},
   {"columns": 1, "spacing": 9, "concat": [
    {"width": 119, "height": 61, "title": {"text": "TTX", "fontSize": 12, "offset": 8, "dx": -15},
     "encoding": {
      "x": {"field": "t", "type": "quantitative", "scale": {"domain": [0, 20], "nice": false}, "axis": null},
      "y": {"field": "v", "type": "quantitative", "scale": {"domain": [1.0, 1.7], "nice": false, "zero": false},
       "axis": {"values": [1.0, 1.35, 1.7], "labelExpr": "datum.value < 1.2 ? '1.0' : (datum.value > 1.5 ? '1.7' : 'F/F₀')", "labelOverlap": false, "offset": 8, "tickSize": 5, "domainColor": "#555555", "tickColor": "#555555", "labelFontSize": 11, "labelAlign": "center", "labelPadding": 15, "title": null}}},
     "layer": [
      {"data": {"name": "BT"}, "mark": {"type": "line", "color": "#dd1520", "strokeWidth": 1, "clip": false}, "encoding": {}},
      {"data": {"values": [{"t": 14.8, "t2": 19.8, "v": 0.74}]}, "mark": {"type": "rule", "color": "#000000", "strokeWidth": 1.2}, "encoding": {"x2": {"field": "t2"}}}
     ]},
    {"width": 129, "height": 66, "title": {"text": "Washout", "fontSize": 12, "offset": 23, "dx": -6},
     "encoding": {
      "x": {"field": "t", "type": "quantitative", "scale": {"domain": [0, 20], "nice": false}, "axis": null},
      "y": {"field": "v", "type": "quantitative", "scale": {"domain": [1.0, 1.7], "nice": false, "zero": false},
       "axis": {"values": [1.0, 1.35, 1.7], "labelExpr": "datum.value < 1.2 ? '1.0' : (datum.value > 1.5 ? '1.7' : 'F/F₀')", "labelOverlap": false, "offset": 8, "tickSize": 5, "domainColor": "#555555", "tickColor": "#555555", "labelFontSize": 11, "labelAlign": "center", "labelPadding": 15, "title": null}}},
     "layer": [
      {"data": {"name": "BW"}, "mark": {"type": "line", "color": "#2d52a8", "strokeWidth": 1, "clip": false}, "encoding": {}},
      {"data": {"values": [{"t": 15.3, "t2": 20.3, "v": 0.8}]}, "mark": {"type": "rule", "color": "#000000", "strokeWidth": 1.2}, "encoding": {"x2": {"field": "t2"}}},
      {"data": {"values": [{"tm": 17.8, "v": 0.8, "label": "5 s"}]}, "mark": {"type": "text", "baseline": "top", "dy": 4, "fontSize": 11},
       "encoding": {"x": {"field": "tm", "type": "quantitative"}, "text": {"field": "label"}}}
     ]}
   ]}
  ]}
 ]},
 {"width": 339, "height": 233,
  "title": {"text": "C", "fontSize": 26, "frame": "group", "anchor": "middle", "dx": -50, "offset": 5},
  "data": {"name": "bars"},
  "resolve": {"scale": {"y": "independent"}},
  "encoding": {"x": {"field": "cond", "type": "nominal", "sort": null, "scale": {"paddingInner": 0.21, "paddingOuter": 0.335},
    "axis": {"title": null, "labelAngle": -34, "labelFontSize": 17, "ticks": false, "labelPadding": 10, "labelOffset": 7, "domainColor": "#000000", "domainWidth": 1.2, "labelAlign": "right", "labelBaseline": "top"}}},
  "layer": [
   {"mark": {"type": "bar", "stroke": "#333333", "strokeWidth": 0.8},
    "encoding": {"y": {"field": "mean", "type": "quantitative", "scale": {"domain": [0, 40], "nice": false},
      "axis": {"values": [0, 10, 20, 30, 40], "title": "ΔCaD, %", "titleFontSize": 16, "titleFontWeight": "normal", "titlePadding": 12, "labelFontSize": 14, "labelPadding": 8, "tickSize": 4, "domainColor": "#000000", "tickColor": "#000000", "domainWidth": 1.2}},
     "color": {"field": "cond", "type": "nominal", "sort": null, "scale": {"domain": ["Control HF", "HF+ TTX", "HF+ RAN", "Washout HF"], "range": ["#050505", "#dc1a22", "#8cc43f", "#f4ee6c"]}, "legend": null}}},
   {"mark": {"type": "rule", "color": "#000000", "strokeWidth": 1.5},
    "encoding": {"y": {"field": "mean", "type": "quantitative", "scale": {"domain": [0, 40], "nice": false}, "axis": null}, "y2": {"field": "hi"}}},
   {"mark": {"type": "tick", "color": "#000000", "thickness": 1.5, "size": 12, "orient": "horizontal"},
    "encoding": {"y": {"field": "hi", "type": "quantitative", "scale": {"domain": [0, 40], "nice": false}, "axis": null}}},
   {"mark": {"type": "text", "fontSize": 16, "baseline": "middle"},
    "encoding": {"y": {"field": "mean", "type": "quantitative", "scale": {"domain": [0, 80], "nice": false}, "axis": null}, "text": {"field": "n"},
     "color": {"condition": {"test": "datum.cond === 'Control HF'", "value": "#ffffff"}, "value": "#2b1d12"}}},
   {"mark": {"type": "text", "fontSize": 17, "baseline": "alphabetic", "dy": -8},
    "encoding": {"y": {"field": "hi", "type": "quantitative", "scale": {"domain": [0, 40], "nice": false}, "axis": null}, "text": {"field": "sig"}}},
   {"data": {"values": [{"cond": "HF+ TTX", "label": "*,&"}]}, "mark": {"type": "text", "fontSize": 17, "baseline": "alphabetic", "dx": 3},
    "encoding": {"y": {"datum": 34.5, "type": "quantitative", "scale": {"domain": [0, 40], "nice": false}, "axis": null}, "text": {"field": "label"}}},
   {"data": {"values": [{"cond": "HF+ TTX", "label": "P<0.05"}]}, "mark": {"type": "text", "fontSize": 17, "baseline": "alphabetic", "align": "left", "dx": 23},
    "encoding": {"y": {"datum": 33.1, "type": "quantitative", "scale": {"domain": [0, 40], "nice": false}, "axis": null}, "text": {"field": "label"}}}
  ]}
]
}
